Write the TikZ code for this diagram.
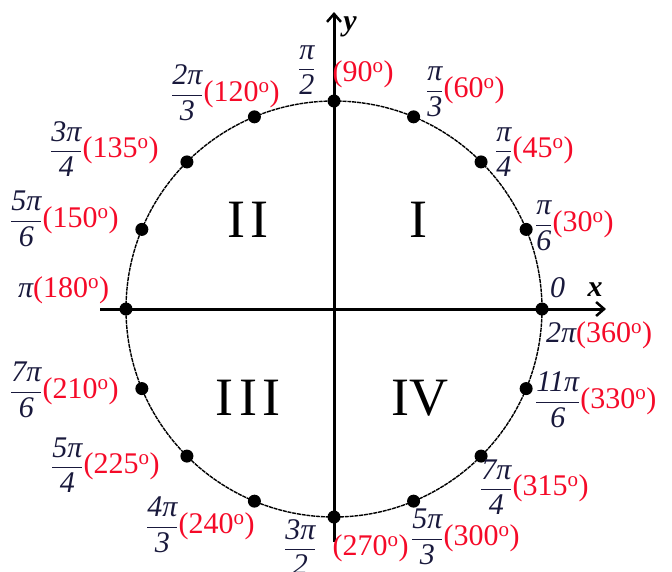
\documentclass[tikz,border=0pt]{standalone}
\usepackage{amsmath}
\usepackage{fontspec}
\setmainfont{Liberation Serif}
\usetikzlibrary{arrows.meta}
\definecolor{navy}{RGB}{25,25,60}
\definecolor{degred}{RGB}{245,10,40}
\newcommand\fr[2]{$\genfrac{}{}{1.5pt}{0}{\text{\itshape #1}}{\text{\itshape #2}}$}
\newcommand\dg[1]{\textcolor{degred}{(#1\textsuperscript{o})}}
\begin{document}
\begin{tikzpicture}[x=1pt,y=-1pt,
  lab/.style={anchor=west,inner sep=0pt,text=navy,font=\fontsize{30}{32}\selectfont},
  quad/.style={font=\fontsize{54}{60}\selectfont,inner sep=0pt,text=black},
  dot/.style={circle,fill=black,inner sep=0pt,minimum size=13pt},
  axis/.style={line width=3pt,-{Straight Barb[length=8pt,width=14pt,line width=2.5pt]}},
  axlab/.style={inner sep=0pt,font=\fontsize{30}{32}\selectfont\bfseries\itshape}]
\useasboundingbox (0,0) rectangle (672,571);
\coordinate (O) at (334,309);
\draw[line width=1.4pt,dash pattern=on 4pt off 0.8pt] (O) circle[radius=208];
\coordinate (xl) at (100,309);
\coordinate (xr) at (606,309);
\coordinate (yb) at (334,542);
\coordinate (yt) at (334,12);
\draw[axis] (xl) -- (xr);
\draw[axis] (yb) -- (yt);
\foreach \a [count=\i] in {0,22.5,...,337.5}
  \node[dot] (d\i) at ([shift={(\a:208)}]O) {};
\node[axlab] (xlab) at (595,290) {x};
\node[axlab] (ylab) at (350,27) {y};
\node[lab] (l0) at (550,288) {\itshape 0};
\node[lab] (l90) at (298,70) {\fr{π}{2}\hspace{17pt}\raisebox{-6pt}{\dg{90}}};
\node[lab] (l60) at (426,92) {\fr{π}{3}\dg{60}};
\node[lab] (l45) at (495,152) {\fr{π}{4}\dg{45}};
\node[lab] (l30) at (535,226) {\fr{π}{6}\dg{30}};
\node[lab] (l120) at (171,93) {\fr{2π}{3}\dg{120}};
\node[lab] (l135) at (50,149) {\fr{3π}{4}\dg{135}};
\node[lab] (l150) at (10,219) {\fr{5π}{6}\dg{150}};
\node[lab] (l180) at (18,290) {\itshape π\upshape\dg{180}};
\node[lab] (l210) at (10,390) {\fr{7π}{6}\dg{210}};
\node[lab] (l225) at (51,465) {\fr{5π}{4}\dg{225}};
\node[lab] (l240) at (146,525) {\fr{4π}{3}\dg{240}};
\node[lab] (l270) at (284,547) {\fr{3π}{2}\hspace{16pt}\dg{270}};
\node[lab] (l300) at (411,537) {\fr{5π}{3}\dg{300}};
\node[lab] (l315) at (480,487) {\fr{7π}{4}\dg{315}};
\node[lab] (l330) at (535,400) {\fr{11π}{6}\dg{330}};
\node[lab] (l360) at (546,335) {\itshape 2π\upshape\dg{360}};
\node[quad] (q1) at (418,220) {I};
\node[quad] (q2) at (248,220) {I\kern6pt I};
\node[quad] (q3) at (248,398) {I\kern6pt I\kern6pt I};
\node[quad] (q4) at (420,398) {IV};
\end{tikzpicture}
\end{document}
